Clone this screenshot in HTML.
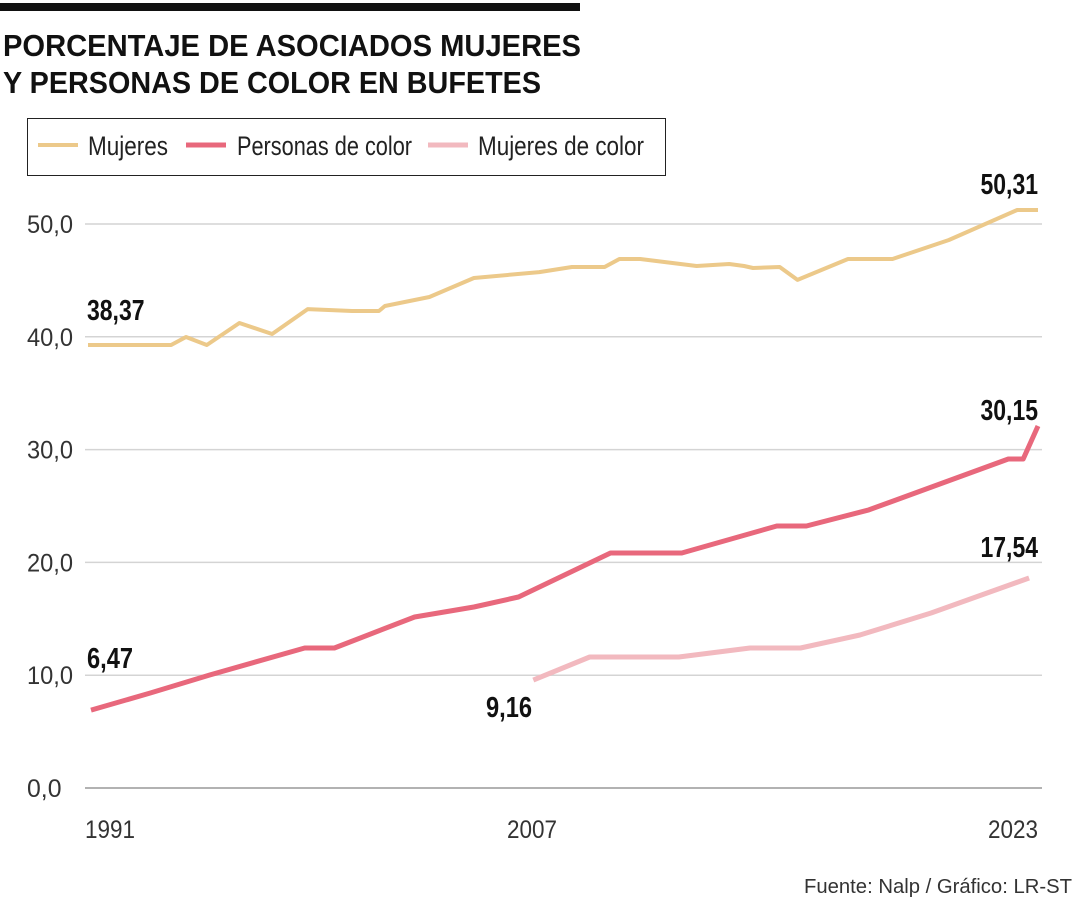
<!DOCTYPE html>
<html><head><meta charset="utf-8"><style>
body{margin:0;background:#fff;}
svg{display:block;font-family:"Liberation Sans",sans-serif;}
</style></head><body>
<svg id="c" width="1080" height="900">
<rect x="0" y="3" width="580" height="8" fill="#111"/>
<text x="3" y="56" font-size="31" font-weight="bold" textLength="578" lengthAdjust="spacingAndGlyphs" fill="#111">PORCENTAJE DE ASOCIADOS MUJERES</text>
<text x="3" y="93" font-size="31" font-weight="bold" textLength="538" lengthAdjust="spacingAndGlyphs" fill="#111">Y PERSONAS DE COLOR EN BUFETES</text>
<g>
<rect x="27.5" y="118.5" width="638" height="57" fill="none" stroke="#222" stroke-width="1"/>
<line x1="38" y1="145" x2="78" y2="145" stroke="#ecc98a" stroke-width="4"/>
<text x="88" y="155" font-size="27" textLength="80" lengthAdjust="spacingAndGlyphs" fill="#222">Mujeres</text>
<line x1="186" y1="145" x2="226" y2="145" stroke="#e8687c" stroke-width="5"/>
<text x="237" y="155" font-size="27" textLength="175" lengthAdjust="spacingAndGlyphs" fill="#222">Personas de color</text>
<line x1="428" y1="145" x2="468" y2="145" stroke="#f2b9bf" stroke-width="5"/>
<text x="478" y="155" font-size="27" textLength="166" lengthAdjust="spacingAndGlyphs" fill="#222">Mujeres de color</text>
</g>
<g id="grid"></g><g id="lines"></g><g id="labels"></g>
<text x="1072" y="893" font-size="20" text-anchor="end" textLength="268" lengthAdjust="spacingAndGlyphs" fill="#333">Fuente: Nalp / Gráfico: LR-ST</text>
</svg>
<script>
const yTicks=[0,10,20,30,40,50];
const yTickLabels=["0,0","10,0","20,0","30,0","40,0","50,0"];
const xTicks=[1991,2007,2023];
const mujYears=[1991,1993.8,1994.3,1995.0,1996.1,1997.2,1998.4,1999.9,2000.8,2001.0,2002.5,2004.0,2006.2,2007.3,2008.4,2008.9,2009.6,2011.5,2012.6,2013.1,2013.4,2014.3,2014.9,2016.6,2018.1,2020.0,2022.3,2023];
const mujValues=[39.27,39.27,39.98,39.27,41.22,40.25,42.46,42.29,42.29,42.73,43.53,45.21,45.74,46.19,46.19,46.9,46.9,46.28,46.45,46.28,46.1,46.19,45.04,46.9,46.9,48.58,51.24,51.24];
const perYears=[1991.1,1993.1,1995.1,1998.3,1999.3,2002.0,2004.0,2005.5,2008.6,2011.0,2014.2,2015.2,2017.3,2022.0,2022.5,2023];
const perValues=[6.91,8.42,10.02,12.41,12.41,15.16,16.05,16.93,20.83,20.83,23.23,23.23,24.65,29.17,29.17,32.09];
const mcYears=[2006.0,2007.9,2010.9,2013.3,2015.0,2017.0,2019.4,2022.7];
const mcValues=[9.57,11.61,11.61,12.41,12.41,13.56,15.51,18.62];
const endLabels=["38,37","6,47","9,16","50,31","30,15","17,54"];
const NS="http://www.w3.org/2000/svg";
const X=y=>88+(y-1991)*(1038-88)/32;
const Y=v=>788-v*11.28;
function mk(t,a,p){const e=document.createElementNS(NS,t);for(const k in a)e.setAttribute(k,a[k]);p.appendChild(e);return e;}
const g=document.getElementById('grid');
yTicks.forEach((t,i)=>{
 const l=mk('line',{x1:85,x2:1042,y1:Y(t),y2:Y(t),stroke:i==0?'#999':'#d4d4d4','stroke-width':1.5},g);
 
 
 const s=yTickLabels[i];
 const tx=mk('text',{x:27,y:Y(t)+9,'font-size':25,fill:'#333',textLength:s.length*11.5,lengthAdjust:'spacingAndGlyphs'},g);
 tx.textContent=s;
 
 
});
xTicks.forEach((t,i)=>{
 const anchor=i==0?'start':(i==2?'end':'middle');
 const x=i==0?85:(i==2?1038:532);
 const tx=mk('text',{x:x,y:838,'font-size':25,fill:'#333','text-anchor':anchor,textLength:50,lengthAdjust:'spacingAndGlyphs'},g);
 tx.textContent=String(t);
 
 
});
const L=document.getElementById('lines');
function line(xs,vs,col,w,name){
 const d=xs.map((x,i)=>(i?'L':'M')+X(x).toFixed(1)+','+Y(vs[i]).toFixed(1)).join('');
 const p=mk('path',{d:d,fill:'none',stroke:col,'stroke-width':w,'stroke-linejoin':'round'},L);
 
 
}
line(mujYears,mujValues,'#ecc98a',4,'line-mujeres');
line(perYears,perValues,'#e8687c',5,'line-personas-de-color');
line(mcYears,mcValues,'#f2b9bf',5,'line-mujeres-de-color');
const lb=document.getElementById('labels');
const pos=[[87,320,'start'],[87,668,'start'],[532,717,'end'],[1038,194,'end'],[1038,420,'end'],[1038,557,'end']];
endLabels.forEach((s,i)=>{
 const t=mk('text',{x:pos[i][0],y:pos[i][1],'font-size':29,'font-weight':'bold',fill:'#111','text-anchor':pos[i][2],textLength:s.length*11.5,lengthAdjust:'spacingAndGlyphs'},lb);
 t.textContent=s;
 
 
});
</script>
</body></html>
